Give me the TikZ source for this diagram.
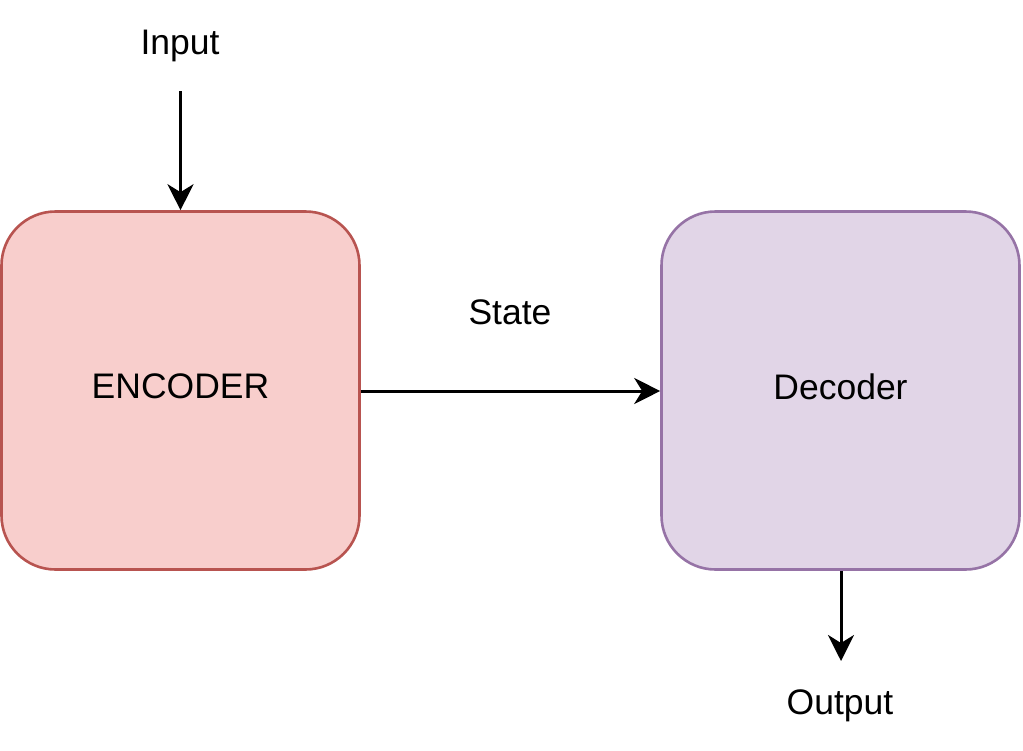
\documentclass[tikz,border=0pt]{standalone}
\usepackage{fontspec}
\setmainfont{Liberation Sans}
\usetikzlibrary{arrows.meta}
\definecolor{encfill}{HTML}{F8CECC}
\definecolor{encdraw}{HTML}{B85450}
\definecolor{decfill}{HTML}{E1D5E7}
\definecolor{decdraw}{HTML}{9673A6}
\begin{document}
\begin{tikzpicture}[x=1pt,y=-1pt,
  box/.style={rounded corners=54pt,line width=2.6pt,minimum width=358pt,minimum height=358pt,inner sep=0pt,text depth=8pt,font=\fontsize{35.5}{42}\selectfont},
  lbl/.style={inner sep=0pt,font=\fontsize{35.5}{42}\selectfont},
  conn/.style={line width=3pt,-{Stealth[length=26pt,width=26pt,inset=8pt]}}]
\useasboundingbox (0,0) rectangle (1023,750);
\node[box,draw=encdraw,fill=encfill] (enc) at (180.5,390.5) {ENCODER};
\node[box,draw=decdraw,fill=decfill] (dec) at (840.5,390.5) {Decoder};
\node[lbl] (in) at (180,46) {Input};
\node[lbl] (st) at (510,312) {State};
\node[lbl] (out) at (840,706) {Output};
\coordinate (inend) at (180.5,91);
\coordinate (outend) at (841,661);
\draw[conn] (inend) -- (enc.north);
\draw[conn] (enc.east |- 0,391) -- (dec.west |- 0,391);
\draw[conn] (dec.south -| 841,0) -- (outend);
\end{tikzpicture}
\end{document}
